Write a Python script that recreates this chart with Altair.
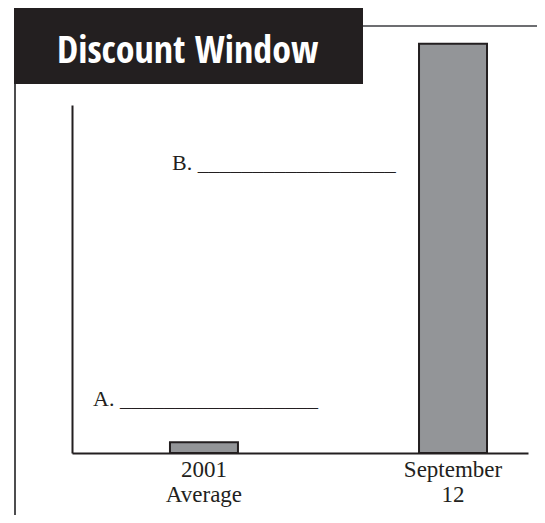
import altair as alt
import pandas as pd

# ---- data ----
categories = ["2001 Average", "September 12"]
values = [1.2, 45.5]
title_text = ["Discount Window"]
blank_a = ["A. __________________"]
blank_b = ["B. __________________"]

W, H = 456, 348
INK = "#231f20"

df = pd.DataFrame({"cat": categories, "val": values})
one = pd.DataFrame({"k": [0]})

bars = alt.Chart(df).mark_bar(fill="#939598", stroke=INK, strokeWidth=2).encode(
    x=alt.X(
        "cat:N",
        sort=categories,
        scale=alt.Scale(paddingInner=0.727, paddingOuter=0.279, align=0.705),
        axis=alt.Axis(
            title=None, domainColor=INK, domainWidth=2, ticks=False, labelAngle=0,
            labelFont="Liberation Serif", labelFontSize=23, labelColor=INK,
            labelExpr="split(datum.label, ' ')", labelLineHeight=25, labelPadding=5,
        ),
    ),
    y=alt.Y(
        "val:Q",
        scale=alt.Scale(domain=[0, 38.7]),
        axis=alt.Axis(title=None, grid=False, ticks=False, labels=False,
                      domainColor=INK, domainWidth=2),
    ),
)

box = alt.Chart(one).mark_rect(color=INK).encode(
    x=alt.value(-58), x2=alt.value(291), y=alt.value(-97), y2=alt.value(-21)
)
left_border = alt.Chart(one).mark_rule(color="#4d4d4f", strokeWidth=2).encode(
    x=alt.value(-57), y=alt.value(-21), y2=alt.value(410)
)
top_border = alt.Chart(one).mark_rule(color="#6d6e71", strokeWidth=2).encode(
    x=alt.value(291), x2=alt.value(465), y=alt.value(-79)
)
title = alt.Chart(one).mark_text(
    align="left", baseline="alphabetic", color="white",
    font="Open Sans Condensed, Roboto Condensed, sans-serif",
    fontSize=38, fontWeight="bold",
).encode(x=alt.value(-15), y=alt.value(-42), text=alt.value(title_text[0]))

label_a = alt.Chart(one).mark_text(
    align="left", baseline="alphabetic", color=INK, font="Liberation Serif", fontSize=22
).encode(x=alt.value(21), y=alt.value(301), text=alt.value(blank_a[0]))
label_b = alt.Chart(one).mark_text(
    align="left", baseline="alphabetic", color=INK, font="Liberation Serif", fontSize=22
).encode(x=alt.value(100), y=alt.value(65), text=alt.value(blank_b[0]))

chart = alt.layer(box, left_border, top_border, bars, title, label_a, label_b).properties(
    width=W, height=H,
    padding={"left": 64, "top": 97, "right": 9, "bottom": 62},
    autosize=alt.AutoSizeParams(type="none"),
).configure_view(stroke=None)

chart.save("out.html", embed_options={"renderer": "svg", "actions": False})
